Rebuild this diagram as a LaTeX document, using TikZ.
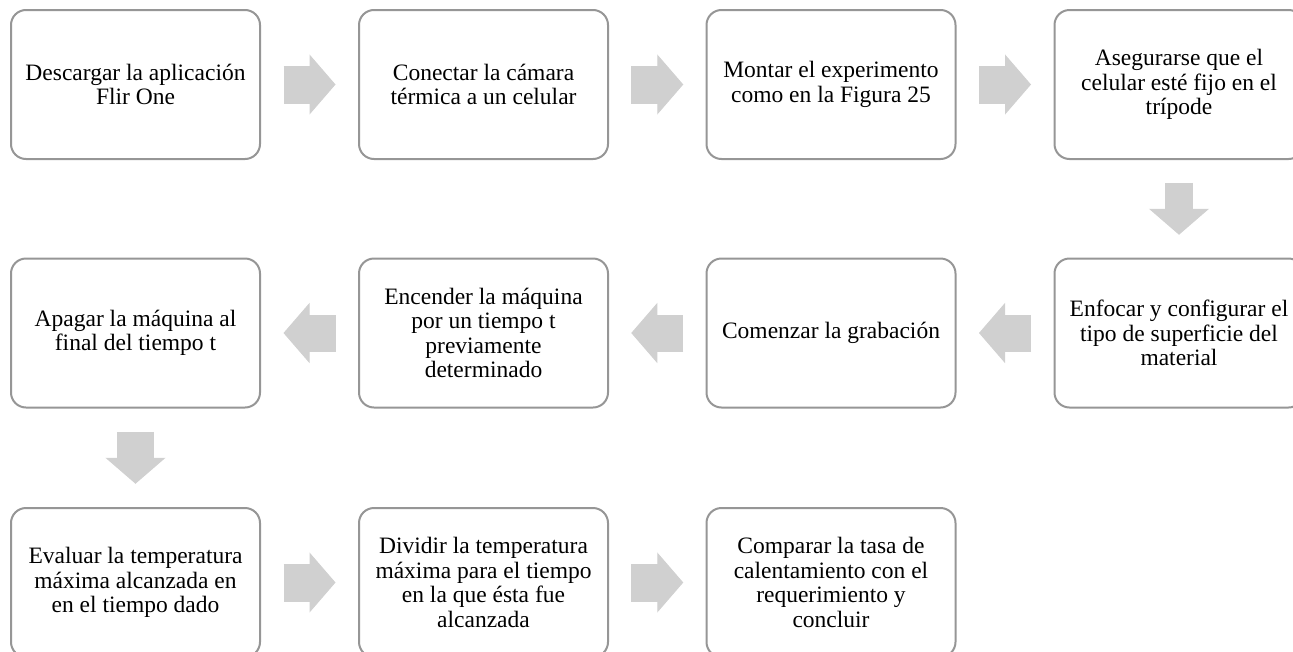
\documentclass[tikz,border=0pt]{standalone}
\usepackage{fontspec}
\setmainfont{Liberation Serif}
\usetikzlibrary{arrows.meta,calc}
\definecolor{borde}{RGB}{150,150,150}
\definecolor{gris}{RGB}{208,208,208}
\begin{document}
\begin{tikzpicture}[x=1pt,y=-1pt,
  paso/.style={draw=borde,line width=2pt,rounded corners=15pt,fill=white,minimum width=249pt,minimum height=149pt,inner sep=0pt,align=center,font=\fontsize{23.5}{24.5}\selectfont},
  flecha/.style={draw=gris,line width=38pt,-{Triangle[length=26pt,width=60pt,line width=1pt]}}]
\def \cA{135.5};
\def \cB{483.5};
\def \cC{831};
\def \cD{1179};
\useasboundingbox (0,0) rectangle (1293,651);
\node[paso] (p1) at (\cA,84.5) {Descargar la aplicación\\Flir One};
\node[paso] (p2) at (\cB,84.5) {Conectar la cámara\\térmica a un celular};
\node[paso] (p3) at (\cC,84.5) {Montar el experimento\\como en la Figura 25};
\node[paso] (p4) at (\cD,84.5) {Asegurarse que el\\celular esté fijo en el\\trípode};
\node[paso] (p5) at (\cD,333) {Enfocar y configurar el\\tipo de superficie del\\material};
\node[paso] (p6) at (\cC,333) {Comenzar la grabación};
\node[paso] (p7) at (\cB,333) {Encender la máquina\\por un tiempo t\\previamente\\determinado};
\node[paso] (p8) at (\cA,333) {Apagar la máquina al\\final del tiempo t};
\node[paso] (p9) at (\cA,582.5) {Evaluar la temperatura\\máxima alcanzada en\\en el tiempo dado};
\node[paso] (p10) at (\cB,582.5) {Dividir la temperatura\\máxima para el tiempo\\en la que ésta fue\\alcanzada};
\node[paso] (p11) at (\cC,582.5) {Comparar la tasa de\\calentamiento con el\\requerimiento y\\concluir};
\foreach \a/\b/\w in {p1/p2/38,p2/p3/38,p3/p4/38,p5/p6/37,p6/p7/37,p7/p8/37,p9/p10/38,p10/p11/38,p4/p5/28,p8/p9/37}{
  \coordinate (m) at ($(\a)!.5!(\b)$);
  \draw[flecha,line width=\w pt] ($(m)!26pt!(\a)$) -- ($(m)!26pt!(\b)$);}
\end{tikzpicture}
\end{document}
